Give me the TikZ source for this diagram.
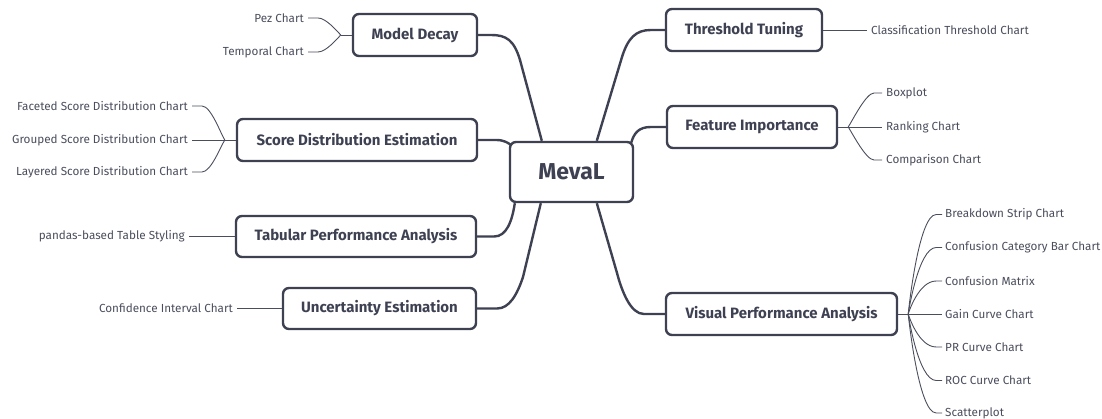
\documentclass[tikz,border=0pt]{standalone}
\usepackage{fontspec}
\setmainfont{Fira Sans}
\usetikzlibrary{calc}
\definecolor{ink}{HTML}{3E4152}
\definecolor{leafink}{HTML}{4A4D5C}
\tikzset{
  rootbox/.style={draw=ink, line width=2.4pt, rounded corners=6pt, text=ink, font=\fontsize{23}{26}\selectfont\bfseries, minimum width=123pt, minimum height=60pt, inner sep=0pt},
  branch/.style={draw=ink, line width=2.4pt, rounded corners=6pt, text=ink, font=\fontsize{15}{17}\selectfont\bfseries, minimum height=42pt, inner sep=0pt},
  leafL/.style={anchor=east, text=leafink, font=\fontsize{11.7}{14}\selectfont, inner sep=0pt},
  leafR/.style={anchor=west, text=leafink, font=\fontsize{11.7}{14}\selectfont, inner sep=0pt},
  mainline/.style={draw=ink, line width=2.4pt},
  leafline/.style={draw=leafink, line width=0.9pt},
}
\begin{document}
\begin{tikzpicture}[x=1pt,y=-1pt]
\useasboundingbox (0,0) rectangle (1102,419);
% root
\node[rootbox] (root) at (571.5,172) {MevaL};
% branches
\node[branch, minimum width=124pt] (md) at (415,35) {Model Decay};
\node[branch, minimum width=240pt] (sd) at (357,140) {Score Distribution Estimation};
\node[branch, minimum width=240pt, minimum height=41pt] (tp) at (356,236.5) {Tabular Performance Analysis};
\node[branch, minimum width=193pt, minimum height=41pt] (ue) at (379.5,308.5) {Uncertainty Estimation};
\node[branch, minimum width=156pt] (tt) at (744,30) {Threshold Tuning};
\node[branch, minimum width=170pt] (fi) at (752,127) {Feature Importance};
\node[branch, minimum width=231pt] (vp) at (781.5,314) {Visual Performance Analysis};
% main connectors
\draw[mainline] (md.east) -- ++(13,0) .. controls ++(15,0) and (514,40) .. (520,60) -- ($(root.north west)+(33,0)$);
\draw[mainline] (tt.west) -- ++(-14,0) .. controls ++(-15,0) and (628,38) .. (622,57) -- ($(root.north west)+(88,0)$);
\draw[mainline] (sd.east) -- ++(18,0) .. controls ++(8,0) and (508,143) .. ($(root.north west)+(2,4)$);
\draw[mainline] (fi.west) -- ++(-15,0) .. controls ++(-12,0) and (634,133) .. ($(root.north east)+(-3,2)$);
\draw[mainline] (tp.east) -- ++(17,0) .. controls ++(12,0) and (512,222) .. ($(root.south west)+(6,0)$);
\draw[mainline] (ue.east) -- ++(20,0) .. controls ++(12,0) and (517,295) .. (523,277) -- ($(root.south west)+(32,0)$);
\draw[mainline] (vp.west) -- ++(-21,0) .. controls ++(-13,0) and (622,292) .. (617,273) -- ($(root.south west)+(88,0)$);
% Model Decay leaves
\coordinate (jmd) at ($(md.west)+(-11,0)$);
\node[leafL] (pez) at (304,18) {Pez Chart};
\node[leafL] (tem) at (304,52) {Temporal Chart};
\draw[leafline] (md.west) -- (jmd);
\draw[leafline] ($(pez.east)+(4,0)$) -- ++(10,0) .. controls ++(8,0) and ($(jmd)+(-4,-4)$) .. (jmd);
\draw[leafline] ($(tem.east)+(4,0)$) -- ++(10,0) .. controls ++(8,0) and ($(jmd)+(-4,4)$) .. (jmd);
% Score distribution leaves
\coordinate (jsd) at ($(sd.west)+(-11,0)$);
\node[leafL] (fac) at (188,106) {Faceted Score Distribution Chart};
\node[leafL] (gro) at (188,140) {Grouped Score Distribution Chart};
\node[leafL] (lay) at (188,172) {Layered Score Distribution Chart};
\draw[leafline] ($(gro.east)+(4,0)$) -- (sd.west);
\draw[leafline] ($(fac.east)+(4,0)$) -- ++(10,0) .. controls ++(9,0) and ($(jsd)+(-4,-6)$) .. (jsd);
\draw[leafline] ($(lay.east)+(4,0)$) -- ++(10,0) .. controls ++(9,0) and ($(jsd)+(-4,6)$) .. (jsd);
% Tabular
\node[leafL] (pan) at (185,236.5) {pandas-based Table Styling};
\draw[leafline] ($(pan.east)+(4,0)$) -- (tp.west);
% Uncertainty
\node[leafL] (con) at (233,308.5) {Confidence Interval Chart};
\draw[leafline] ($(con.east)+(4,0)$) -- (ue.west);
% Threshold
\node[leafR] (cla) at (871,30) {Classification Threshold Chart};
\draw[leafline] (tt.east) -- ($(cla.west)+(-4,0)$);
% Feature importance
\coordinate (jfi) at ($(fi.east)+(10,0)$);
\node[leafR] (box) at (886,93) {Boxplot};
\node[leafR] (ran) at (886,127) {Ranking Chart};
\node[leafR] (com) at (886,160) {Comparison Chart};
\draw[leafline] (fi.east) -- ($(ran.west)+(-4,0)$);
\draw[leafline] (jfi) .. controls ($(jfi)+(4,-6)$) and (866,93) .. (874,93) -- ($(box.west)+(-4,0)$);
\draw[leafline] (jfi) .. controls ($(jfi)+(4,6)$) and (866,160) .. (874,160) -- ($(com.west)+(-4,0)$);
% Visual performance
\coordinate (jvp) at ($(vp.east)+(10,0)$);
\node[leafR] (v1) at (945,214.5) {Breakdown Strip Chart};
\node[leafR] (v2) at (945,247.5) {Confusion Category Bar Chart};
\node[leafR] (v3) at (945,281) {Confusion Matrix};
\node[leafR] (v4) at (945,314) {Gain Curve Chart};
\node[leafR] (v5) at (945,347) {PR Curve Chart};
\node[leafR] (v6) at (945,380.5) {ROC Curve Chart};
\node[leafR] (v7) at (945,413) {Scatterplot};
\draw[leafline] (vp.east) -- ($(v4.west)+(-3,0)$);
\foreach \n in {v1,v2,v3,v5,v6,v7}{
  \draw[leafline] (jvp) .. controls (jvp) and ($(jvp |- \n.west)+(10,0)$) .. ($(jvp |- \n.west)+(28,0)$) -- ($(\n.west)+(-3,0)$);
}
\end{tikzpicture}
\end{document}
